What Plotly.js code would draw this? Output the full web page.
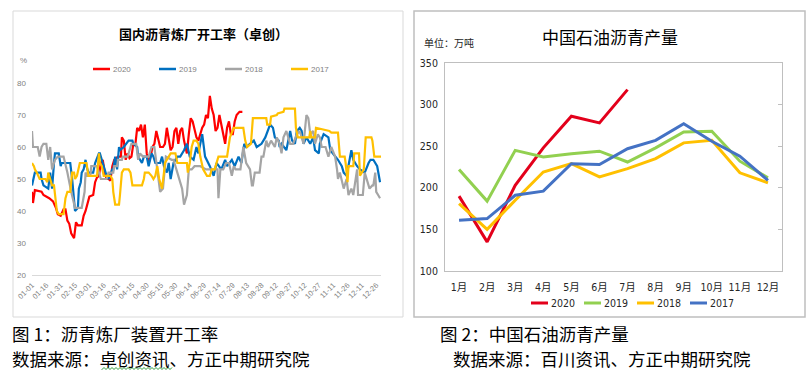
<!DOCTYPE html>
<html><head><meta charset="utf-8">
<script src="https://cdn.plot.ly/plotly-3.0.1.min.js"></script>
<style>html,body{margin:0;padding:0;background:#fff;}#chart{width:812px;height:380px;}</style>
</head><body><div id="chart"></div>
<script>
// ---------- data ----------
const seriesNames = ['2020', '2019', '2018', '2017'];
const dayTickLabels = ['01-01','01-16','01-31','02-15','03-01','03-16','03-31','04-15','04-30','05-15','05-30','06-14','06-29','07-14','07-29','08-13','08-28','09-12','09-27','10-12','10-27','11-11','11-26','12-11','12-26'];

// Figure 1: refinery operating rate (%), x = day of year index
const days2020 = [0,1,3,10,12,18,22,25,27,30,33,35,37,39,41,43,44,46,48,52,54,56,58,60,64,66,68,70,72,74,76,78,80,82,84,86,90,93,94,96,98,100,102,104,106,108,110,112,114,116,118,120,122,124,126,128,130,132,134,137,139,141,143,145,147,149,151,153,155,157,159,162,164,166,168,170,172,174,176,178,180,182,184,186,188,190,192,194,196,198,200,202,204,206,208,210,212,214,217,220];
const rate2020 = [46,42.5,46.5,46,45,44,43,41,39,38.5,40.5,40.5,37,36,33,32,31.5,36.5,35.5,35.5,38.5,40,42,44.5,45,49,50.5,51,55,56,52,50,50,49.5,54,56,57,57,63,62,56,58,56.5,57,61,60.5,66,65,67,63,67,58,55,57,60,61,65,62,60,60,61,66,63,59,60,65,66,61,65,66,62,58,64,69,68,65,63,62,64,66,67,70,69,76,72,70,65,66,70,67,63,61,66,68,64,64,68,70,71,71];

const days2019 = [0,2,3,9,10,12,17,19,21,23,24,28,30,31,40,42,44,45,48,49,51,52,54,56,57,59,64,66,70,71,73,75,78,80,84,85,87,89,91,92,96,101,105,106,110,111,115,117,120,122,125,127,129,134,136,138,141,143,145,148,152,155,159,162,165,169,172,174,178,181,186,190,193,198,202,204,209,212,216,219,222,224,228,232,235,240,244,249,252,254,258,259,261,266,268,270,272,275,277,280,282,284,287,291,294,296,300,301,305,310,312,317,320,324,326,329,333,334,336,340,343,348,352,354,357,361,364];
const rate2019 = [48,51,52,52,50,48,47,52,47,55,58,58,54,55,55,50,44,40,41,47,49,52,53,56,54,52,52,55,58,58,56,54,51,50,53,53,57,53,60,59,60,62,62,61,60,57,55,57,57,54,58,57,55,55,57,54,52,55,50,55,57,57,59,61,57,56,60,58,64,57,54,51,55,53,56,54,56,54,57,55,61,60,61,62,60,61,63,67,66,63,62,60,61,59,62,65,62,61,65,66,65,61,63,61,63,59,58,61,64,63,59,57,56,54,52,51,57,59,56,54,53,52,55,56,56,54,49];

const days2018 = [0,1,6,8,10,12,15,17,19,21,24,27,33,37,41,45,52,55,56,58,61,62,68,70,72,78,80,85,86,89,90,94,95,100,101,104,109,111,113,116,122,125,128,130,134,137,140,146,148,152,155,157,159,162,164,167,170,176,182,190,194,195,197,200,203,206,209,211,213,218,219,221,224,228,230,231,233,238,240,242,245,247,250,254,256,259,261,263,266,270,273,277,280,284,287,289,291,294,296,299,301,303,307,310,313,317,319,320,322,326,329,331,334,336,340,341,343,346,348,350,353,356,357,359,360,362,364];
const rate2018 = [65,60,60,57,60,61,61,56,60,53,56,57,57,52,46,41,41,46,52,51,51,54,54,52,50,50,52,52,54,54,56,56,57,57,58,61,61,56,58,57,57,60,60,55,46,47,57,56,56,52,49,47,42,45,53,53,54,54,53,53,53,44,53,53,55,55,51,54,53,53,56,60,55,53,48,48,52,52,57,57,62,60,62,60,63,61,58,63,65,61,61,64,65,61,70,69,64,65,61,64,63,60,60,57,60,57,53,50,52,47,50,45,47,45,53,45,45,45,52,50,47,48,48,52,46,45,44];

const days2017 = [0,2,3,5,8,14,16,17,19,21,23,24,26,28,33,35,37,40,41,42,44,45,47,50,57,58,59,68,70,71,73,75,82,84,85,87,91,92,94,96,101,103,105,115,117,118,122,125,127,129,131,133,136,138,139,143,145,150,152,162,163,165,167,169,172,174,176,179,183,186,188,191,193,195,204,205,207,211,221,223,225,229,231,245,246,249,250,256,257,263,264,275,276,278,290,291,292,296,297,311,313,320,321,322,327,328,330,331,336,337,342,343,347,349,355,356,358,365];
const rate2017 = [55,54,53,52,50,50,49,52,50,48,48,45,40,39,39,44,46,46,50,52,52,50,51,55,55,52,51,51,58,55,54,51,51,50,46,42,42,45,52,53,53,52,48,48,50,52,52,51,50,51,54,50,47,52,55,57,58,58,55,55,52,55,60,62,62,61,57,53,51,51,53,53,55,57,57,59,63,66,66,62,60,61,69,69,67,67,69.5,70,70.5,71,72,72,66,63,63,65,63,63,66,65,64.5,64.5,61,57,57,55,49,54,54,58,58,51,53,63,63,62,57,57];

// Figure 2: asphalt output (10k tonnes)
const months = ['1月','2月','3月','4月','5月','6月','7月','8月','9月','10月','11月','12月'];
const output2020 = [190,135,203,248,286,278,318];
const output2019 = [222,184,245,237,241,244,231,248,267,268,232,212];
const output2018 = [181,150,185,219,229,213,223,235,254,257,218,206];
const output2017 = [161,163,191,196,229,228,247,257,277,256,238,209];

// ---------- drawing ----------
const W = 812, H = 380;
const px = x => x / W, py = y => 1 - y / H;
const leftColors = ['#FF0000', '#0070C0', '#A5A5A5', '#FFC000'];
const rightColors = ['#E3001B', '#92D050', '#FFC000', '#4472C4'];
const CJK = '"Noto Sans CJK SC", "Noto Sans", sans-serif';
const NARROW = '"Liberation Sans Narrow", "DejaVu Sans Condensed", "Liberation Sans", "Noto Sans CJK SC", sans-serif';
const GREYTXT = '#7F7F7F';

const leftDays = [days2020, days2019, days2018, days2017];
const leftRates = [rate2020, rate2019, rate2018, rate2017];
const rightVals = [output2020, output2019, output2018, output2017];

const traces = [];
leftDays.forEach((d, i) => traces.push({
  type: 'scatter', mode: 'lines', x: d, y: leftRates[i], xaxis: 'x', yaxis: 'y',
  name: seriesNames[i], line: { color: leftColors[i], width: 2.2 }, showlegend: false
}));
rightVals.forEach((v, i) => traces.push({
  type: 'scatter', mode: 'lines', x: months.slice(0, v.length), y: v, xaxis: 'x2', yaxis: 'y2',
  name: seriesNames[i], line: { color: rightColors[i], width: 3 }, showlegend: false
}));
traces.push({ type: 'scatter', mode: 'lines', x: [], y: [], xaxis: 'x2', yaxis: 'y3', showlegend: false, hoverinfo: 'skip' });

const shapes = [];
const annotations = [];
// chart frames
shapes.push({ type: 'rect', xref: 'paper', yref: 'paper', x0: px(13), x1: px(403), y0: py(317), y1: py(11), line: { color: '#D9D9D9', width: 1 } });
shapes.push({ type: 'rect', xref: 'paper', yref: 'paper', x0: px(414), x1: px(805), y0: py(317), y1: py(11), line: { color: '#BFBFBF', width: 1.5 } });

// legends (drawn manually to match the compact original)
seriesNames.forEach((n, i) => {
  const lx = 93 + i * 66, ly = 69;
  shapes.push({ type: 'line', xref: 'paper', yref: 'paper', x0: px(lx), x1: px(lx + 17), y0: py(ly), y1: py(ly), line: { color: leftColors[i], width: 2.5 } });
  annotations.push({ xref: 'paper', yref: 'paper', x: px(lx + 18), y: py(ly), xanchor: 'left', yanchor: 'middle', showarrow: false, text: n, font: { family: '"Liberation Sans", sans-serif', size: 8, color: GREYTXT } });
  const rx = 531 + i * 53, ry = 303;
  shapes.push({ type: 'line', xref: 'paper', yref: 'paper', x0: px(rx), x1: px(rx + 17), y0: py(ry), y1: py(ry), line: { color: rightColors[i], width: 3 } });
  annotations.push({ xref: 'paper', yref: 'paper', x: px(rx + 18), y: py(ry), xanchor: 'left', yanchor: 'middle', showarrow: false, text: n, font: { family: NARROW, size: 10.5, color: '#262626' } });
});

// titles and labels
annotations.push({ xref: 'paper', yref: 'paper', x: px(203), y: py(33), xanchor: 'center', yanchor: 'middle', showarrow: false, text: '国内沥青炼厂开工率（卓创）', font: { family: CJK, size: 13, color: '#000', weight: 'bold' } });
annotations.push({ xref: 'paper', yref: 'paper', x: px(23), y: py(60), xanchor: 'center', yanchor: 'middle', showarrow: false, text: '%', font: { family: '"Liberation Sans", sans-serif', size: 8, color: GREYTXT } });
annotations.push({ xref: 'paper', yref: 'paper', x: px(610), y: py(37), xanchor: 'center', yanchor: 'middle', showarrow: false, text: '中国石油沥青产量', font: { family: CJK, size: 17, color: '#000' } });
annotations.push({ xref: 'paper', yref: 'paper', x: px(422), y: py(42), xanchor: 'left', yanchor: 'middle', showarrow: false, text: '单位：万吨', font: { family: CJK, size: 10, color: '#262626' } });

// captions
const capFont = { family: CJK, size: 17.5, color: '#000' };
annotations.push({ xref: 'paper', yref: 'paper', x: px(10), y: py(333), xanchor: 'left', yanchor: 'middle', showarrow: false, text: '图 1：沥青炼厂装置开工率', font: capFont });
annotations.push({ xref: 'paper', yref: 'paper', x: px(10), y: py(358), xanchor: 'left', yanchor: 'middle', showarrow: false, text: '数据来源：卓创资讯、方正中期研究院', font: capFont });
annotations.push({ xref: 'paper', yref: 'paper', x: px(438), y: py(333), xanchor: 'left', yanchor: 'middle', showarrow: false, text: '图 2：中国石油沥青产量', font: capFont });
annotations.push({ xref: 'paper', yref: 'paper', x: px(451), y: py(358), xanchor: 'left', yanchor: 'middle', showarrow: false, text: '数据来源：百川资讯、方正中期研究院', font: capFont });

// spell-check style wavy underline
let wave = 'M ' + px(102) + ',' + py(369);
for (let x = 102, k = 0; x <= 172; x += 2, k++) wave += ' L ' + px(x) + ',' + py(k % 2 ? 367.5 : 369.5);
shapes.push({ type: 'path', xref: 'paper', yref: 'paper', path: wave, line: { color: '#2E9B3A', width: 1 } });

const layout = {
  width: W, height: H, margin: { l: 0, r: 0, t: 0, b: 0 },
  paper_bgcolor: '#fff', plot_bgcolor: 'rgba(0,0,0,0)', showlegend: false,
  xaxis: {
    domain: [px(32), px(381)], anchor: 'y', range: [0, 365],
    tickmode: 'array', tickvals: dayTickLabels.map((_, i) => i * 15), ticktext: dayTickLabels,
    tickangle: -45, tickfont: { family: '"Liberation Sans", sans-serif', size: 7.5, color: GREYTXT },
    showline: true, linecolor: '#D9D9D9', linewidth: 1, showgrid: false, zeroline: false, ticks: '', ticklabelstandoff: 2
  },
  yaxis: {
    domain: [py(275), py(83)], anchor: 'x', range: [20, 80], dtick: 10, tick0: 20,
    showline: false, showgrid: false, zeroline: false, ticks: '',
    tickfont: { family: '"Liberation Sans", sans-serif', size: 8, color: GREYTXT }, ticklabelstandoff: 5
  },
  xaxis2: {
    domain: [px(445), px(782)], anchor: 'y2', type: 'category', categoryarray: months, range: [-0.5, 11.5],
    showline: true, mirror: true, linecolor: '#BFBFBF', linewidth: 1, showgrid: false, zeroline: false, ticks: '',
    tickfont: { family: NARROW, size: 10.5, color: '#262626' }, ticklabelstandoff: 6
  },
  yaxis2: {
    domain: [py(271), py(63)], anchor: 'x2', range: [100, 350], dtick: 50, tick0: 100,
    showline: true, mirror: true, linecolor: '#BFBFBF', linewidth: 1, showgrid: false, zeroline: false, ticks: '',
    tickfont: { family: NARROW, size: 10.5, color: '#262626' }, ticklabelstandoff: 4
  },
  yaxis3: {
    overlaying: 'y2', anchor: 'x2', side: 'right', range: [100, 350], dtick: 50, tick0: 100,
    ticks: 'inside', ticklen: 4, tickcolor: '#BFBFBF', showticklabels: false, showgrid: false, zeroline: false, showline: false
  },
  shapes, annotations
};

Plotly.newPlot('chart', traces, layout, { staticPlot: true, displayModeBar: false });
</script>
</body></html>
